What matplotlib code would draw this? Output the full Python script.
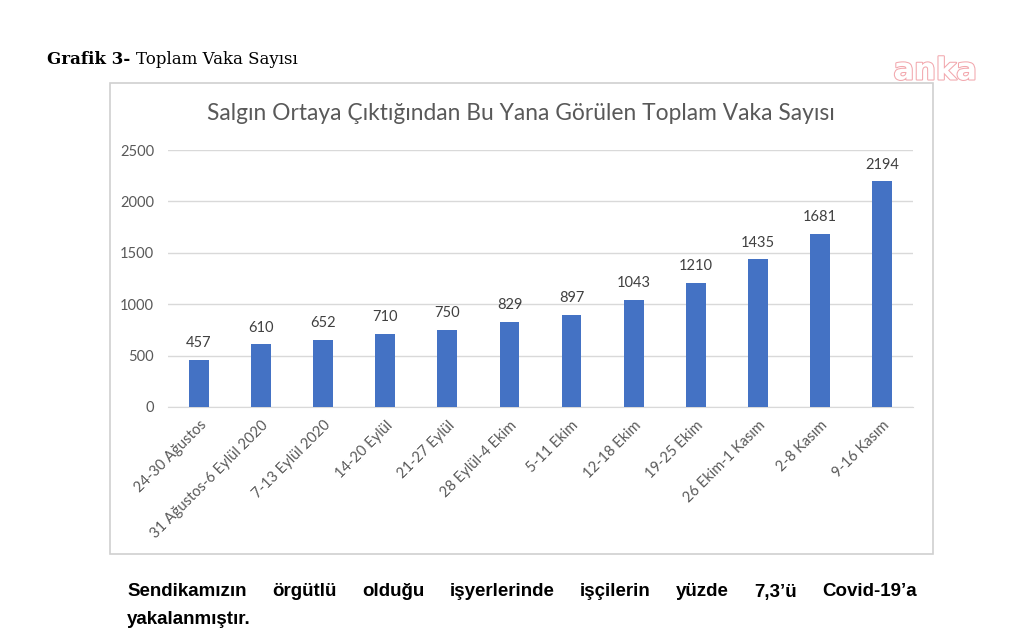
import matplotlib
matplotlib.use("Agg")
import matplotlib.pyplot as plt
import matplotlib.patheffects as pe
from matplotlib.patches import Rectangle

weeks = ["24-30 Ağustos", "31 Ağustos-6 Eylül 2020", "7-13 Eylül 2020", "14-20 Eylül",
         "21-27 Eylül", "28 Eylül-4 Ekim", "5-11 Ekim", "12-18 Ekim", "19-25 Ekim",
         "26 Ekim-1 Kasım", "2-8 Kasım", "9-16 Kasım"]
cases = [457, 610, 652, 710, 750, 829, 897, 1043, 1210, 1435, 1681, 2194]
yticks = [0, 500, 1000, 1500, 2000, 2500]

W, H = 1034, 641
fig = plt.figure(figsize=(W / 100, H / 100), dpi=100)
fig.patch.set_facecolor("white")
plt.rcParams["font.family"] = ["Lato", "DejaVu Sans"]

def fx(px):
    return px / W

def fy(py):
    return 1 - py / H

# chart frame
fig.patches.append(Rectangle((fx(110), fy(554)), fx(933) - fx(110), fy(83) - fy(554),
                             transform=fig.transFigure, fill=False, edgecolor="#d0d0d0", lw=1.2))

ax = fig.add_axes([fx(168), fy(407), fx(913) - fx(168), fy(150) - fy(407)])
x = range(len(cases))
ax.bar(x, cases, width=0.32, color="#4472C4", zorder=3)
for i, v in enumerate(cases):
    ax.text(i, v + 95, str(v), ha="center", va="bottom", fontsize=10.5, color="#404040")

ax.set_xlim(-0.5, len(cases) - 0.5)
ax.set_ylim(0, 2500)
ax.set_yticks(yticks)
ax.set_yticklabels([str(t) for t in yticks], fontsize=10.5, color="#595959")
ax.set_xticks(list(x))
ax.set_xticklabels(weeks, rotation=45, ha="right", rotation_mode="anchor",
                   fontsize=10.5, color="#595959")
ax.tick_params(length=0, pad=10)
ax.tick_params(axis="x", pad=8)
ax.grid(axis="y", color="#d9d9d9", lw=1, zorder=0)
for s in ["top", "right", "left"]:
    ax.spines[s].set_visible(False)
ax.spines["bottom"].set_color("#d9d9d9")

fig.text(fx(521), fy(114), "Salgın Ortaya Çıktığından Bu Yana Görülen Toplam Vaka Sayısı",
         ha="center", va="center", fontsize=16.4, color="#595959")

# header
t1 = fig.text(fx(47), fy(60), "Grafik 3- ", ha="left", va="center", fontsize=12,
              fontweight="bold", family="DejaVu Serif", color="black")
fig.canvas.draw()
bb = t1.get_window_extent()
fig.text(bb.x1 / W, fy(60), "Toplam Vaka Sayısı", ha="left", va="center", fontsize=12,
         family="DejaVu Serif", color="black")

fig.text(fx(935), fy(71), "anka", ha="center", va="center", fontsize=22,
         color="white", fontweight="bold", family="DejaVu Sans",
         path_effects=[pe.withStroke(linewidth=1.5, foreground="#f2a7ad")])

# justified bottom paragraph
words = ["Sendikamızın", "örgütlü", "olduğu", "işyerlerinde", "işçilerin", "yüzde",
         "7,3’ü", "Covid-19’a"]
left, right = 127, 917
objs = [fig.text(0, fy(592), w, ha="left", va="center", fontsize=13.5, fontweight="bold",
                 family="Liberation Sans") for w in words]
fig.canvas.draw()
widths = [o.get_window_extent().width for o in objs]
gap = (right - left - sum(widths)) / (len(words) - 1)
pos = left
for o, w in zip(objs, widths):
    o.set_x(pos / W)
    pos += w + gap
fig.text(fx(127), fy(620), "yakalanmıştır.", ha="left", va="center", fontsize=13.5,
         fontweight="bold", family="Liberation Sans")

fig.savefig("out.png", dpi=100)
